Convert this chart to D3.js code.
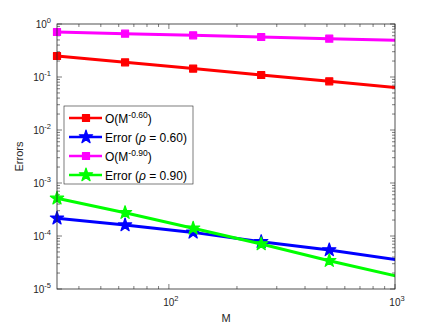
<!DOCTYPE html>
<html>
<head>
<meta charset="utf-8">
<script src="https://cdn.jsdelivr.net/npm/d3@7"></script>
<style>
  body { margin: 0; background: #fff; }
  text { font-family: "Liberation Sans", Arial, sans-serif; }
</style>
</head>
<body>
<div id="chart"></div>
<script>
// ── Data ───────────────────────────────────────────────────────────────
const M = [32, 64, 128, 256, 512, 1024];
const rateP60  = [0.249, 0.189, 0.144, 0.109, 0.083, 0.063];
const errP60   = [2.16e-4, 1.61e-4, 1.17e-4, 7.8e-5, 5.45e-5, 3.55e-5];
const rateP90  = [0.706, 0.656, 0.612, 0.569, 0.529, 0.492];
const errP90   = [5.14e-4, 2.75e-4, 1.40e-4, 7.07e-5, 3.42e-5, 1.74e-5];

const xDomain = [32, 1000];
const yDomain = [1e-5, 1];
const xMajor = [1e2, 1e3];
const yMajor = [1e0, 1e-1, 1e-2, 1e-3, 1e-4, 1e-5];

const series = [
  { values: rateP60, color: '#ff0000', marker: 'square', label: 'rate', exp: '-0.60' },
  { values: errP60,  color: '#0000ff', marker: 'star',   label: 'err',  rho: '0.60' },
  { values: rateP90, color: '#ff00ff', marker: 'square', label: 'rate', exp: '-0.90' },
  { values: errP90,  color: '#00ff00', marker: 'star',   label: 'err',  rho: '0.90' },
];

// ── Layout ─────────────────────────────────────────────────────────────
const W = 436, H = 327;
const m = { left: 57, top: 24, right: 41, bottom: 38 };
const iw = W - m.left - m.right;
const ih = H - m.top - m.bottom;
const axisCol = '#262626';

const svg = d3.select('#chart').append('svg')
  .attr('width', W).attr('height', H);

const x = d3.scaleLog().domain(xDomain).range([0, iw]);
const y = d3.scaleLog().domain(yDomain).range([ih, 0]);

const g = svg.append('g').attr('transform', `translate(${m.left},${m.top})`);

svg.append('defs').append('clipPath').attr('id', 'clip')
  .append('rect').attr('x', -8).attr('y', -8).attr('width', iw + 8).attr('height', ih + 16);

// ── Ticks (inside, on all four sides) ──────────────────────────────────
const xMinor = [];
[10, 100].forEach(d => { for (let k = 2; k <= 9; k++) { const v = d * k; if (v >= xDomain[0] && v <= xDomain[1]) xMinor.push(v); } });
const yMinor = [];
[1e-5, 1e-4, 1e-3, 1e-2, 1e-1].forEach(d => { for (let k = 2; k <= 9; k++) yMinor.push(d * k); });

const tickG = g.append('g').attr('stroke', axisCol).attr('stroke-width', 0.6);
function xTick(v, len) {
  tickG.append('line').attr('x1', x(v)).attr('x2', x(v)).attr('y1', ih).attr('y2', ih - len);
  tickG.append('line').attr('x1', x(v)).attr('x2', x(v)).attr('y1', 0).attr('y2', len);
}
function yTick(v, len) {
  tickG.append('line').attr('y1', y(v)).attr('y2', y(v)).attr('x1', 0).attr('x2', len);
  tickG.append('line').attr('y1', y(v)).attr('y2', y(v)).attr('x1', iw).attr('x2', iw - len);
}
xMinor.forEach(v => xTick(v, 3));
xMajor.forEach(v => xTick(v, 5));
yMinor.forEach(v => yTick(v, 3));
yMajor.forEach(v => yTick(v, 5));

// ── Tick labels ────────────────────────────────────────────────────────
function powLabel(sel, v) {
  const e = Math.round(Math.log10(v));
  sel.append('tspan').text('10');
  sel.append('tspan').attr('dy', -5).attr('font-size', 7.5).text(String(e));
}
xMajor.forEach(v => {
  const t = g.append('text').attr('x', x(v) + 2).attr('y', ih + 17)
    .attr('text-anchor', 'middle').attr('font-size', 10).attr('fill', axisCol);
  powLabel(t, v);
});
yMajor.forEach(v => {
  const t = g.append('text').attr('x', -6).attr('y', y(v) + 4)
    .attr('text-anchor', 'end').attr('font-size', 10).attr('fill', axisCol);
  powLabel(t, v);
});

// axis titles
g.append('text').attr('x', iw / 2).attr('y', ih + 33)
  .attr('text-anchor', 'middle').attr('font-size', 11).attr('fill', axisCol).text('M');
g.append('text').attr('transform', `translate(${-34},${ih / 2}) rotate(-90)`)
  .attr('text-anchor', 'middle').attr('font-size', 11).attr('fill', axisCol).text('Errors');

// ── Series ─────────────────────────────────────────────────────────────
const line = d3.line().x((d, i) => x(M[i])).y(d => y(d));
const sym = { square: d3.symbol(d3.symbolSquare, 49), star: d3.symbol(d3.symbolStar, 55) };

series.forEach(s => {
  const sg = g.append('g').attr('clip-path', 'url(#clip)');
  sg.append('path').datum(s.values).attr('d', line)
    .attr('fill', 'none').attr('stroke', s.color).attr('stroke-width', 3);
  sg.selectAll('path.mk').data(s.values.filter((d, i) => M[i] <= xDomain[1])).join('path')
    .attr('class', 'mk')
    .attr('transform', (d, i) => `translate(${x(M[i])},${y(d)})`)
    .attr('d', sym[s.marker]())
    .attr('fill', s.color).attr('stroke', s.color).attr('stroke-width', 1.2)
    .attr('stroke-linejoin', 'round');
});

// box
g.append('rect').attr('width', iw).attr('height', ih)
  .attr('fill', 'none').attr('stroke', axisCol).attr('stroke-width', 0.8);

// ── Legend ─────────────────────────────────────────────────────────────
const lg = g.append('g').attr('transform', `translate(${64 - m.left},${106 - m.top})`);
lg.append('rect').attr('width', 129).attr('height', 78)
  .attr('fill', '#fff').attr('stroke', axisCol).attr('stroke-width', 0.6);
series.forEach((s, i) => {
  const yy = 12 + i * 19;
  lg.append('line').attr('x1', 5).attr('x2', 38).attr('y1', yy).attr('y2', yy)
    .attr('stroke', s.color).attr('stroke-width', 2.5);
  lg.append('path').attr('transform', `translate(22,${yy})`)
    .attr('d', sym[s.marker]()).attr('fill', s.color).attr('stroke', s.color)
    .attr('stroke-width', 1.2).attr('stroke-linejoin', 'round');
  const t = lg.append('text').attr('x', 41).attr('y', yy + 4.5)
    .attr('font-size', 12).attr('fill', '#000');
  if (s.label === 'rate') {
    t.append('tspan').text('O(M');
    t.append('tspan').attr('dy', -5).attr('font-size', 8.5).text(s.exp);
    t.append('tspan').attr('dy', 5).text(')');
  } else {
    t.append('tspan').text('Error (');
    t.append('tspan').attr('font-style', 'italic').text('ρ');
    t.append('tspan').text(' = ' + s.rho + ')');
  }
});
</script>
</body>
</html>
